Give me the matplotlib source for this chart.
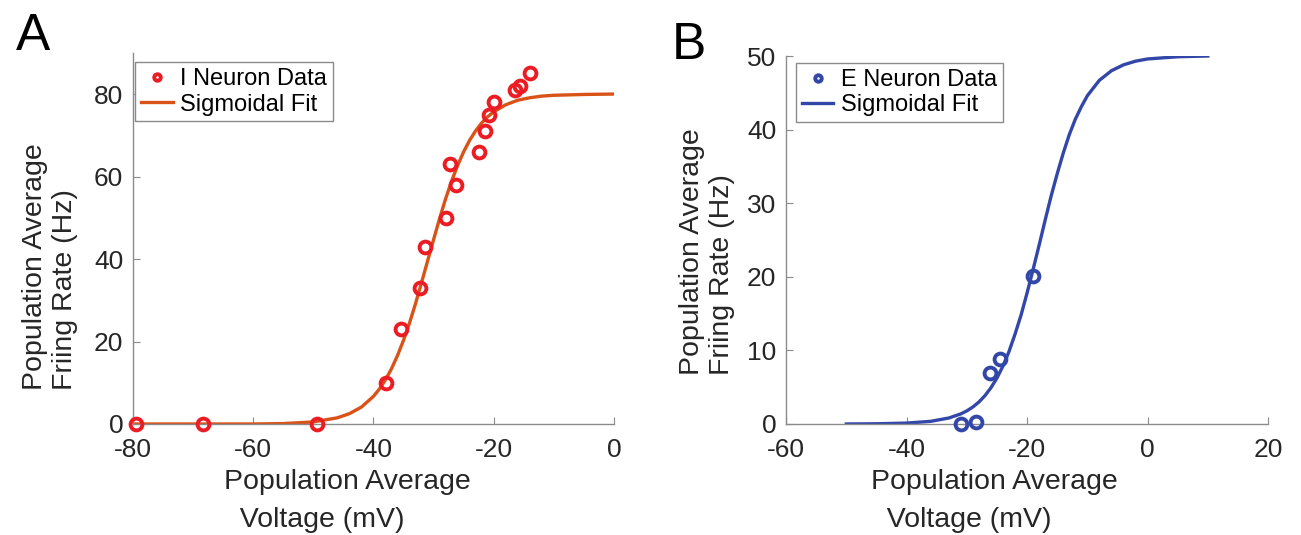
import matplotlib
matplotlib.use("Agg")
import matplotlib.pyplot as plt

plt.rcParams['font.family'] = ['Liberation Sans', 'DejaVu Sans']
plt.rcParams['axes.unicode_minus'] = False

# Panel A - I neuron data (voltage mV, rate Hz)
i_volt = [-79.5, -68.4, -49.4, -37.9, -35.4, -32.2, -31.4, -28.0, -27.2, -26.3,
          -22.4, -21.4, -20.8, -19.9, -16.5, -15.7, -14.0]
i_rate = [0.0, 0.0, 0.0, 10.0, 23.0, 33.0, 43.0, 50.0, 63.0, 58.0,
          66.0, 71.0, 75.0, 78.0, 81.0, 82.0, 85.0]

# Panel A - sigmoidal fit
i_fit_v = [-80, -70, -60, -55, -50, -46, -44, -42, -40, -39, -38, -37, -36, -35,
           -34, -33, -32, -31, -30, -29, -28, -27, -26, -25, -24, -23, -22, -21,
           -20, -18, -16, -14, -12, -10, -5, 0]
i_fit_r = [0.0, 0.0, 0.0, 0.1, 0.5, 1.5, 2.5, 4.1, 6.7, 8.5, 10.7, 13.4, 16.6, 20.3,
           24.5, 29.2, 34.3, 39.5, 44.7, 49.8, 54.6, 58.9, 62.7, 66.0, 68.8, 71.1, 73.0, 74.5,
           75.7, 77.4, 78.5, 79.1, 79.5, 79.7, 79.9, 80.0]

# Panel B - E neuron data
e_volt = [-31.0, -28.4, -26.1, -24.5, -19.0]
e_rate = [0.0, 0.3, 6.9, 8.8, 20.1]

# Panel B - sigmoidal fit
e_fit_v = [-50, -45, -40, -36, -33, -31, -30, -29, -28, -27, -26, -25, -24, -23,
           -22, -21, -20, -19, -18, -17, -16, -15, -14, -13, -12, -11, -10, -8,
           -6, -4, -2, 0, 5, 10]
e_fit_r = [0.0, 0.03, 0.12, 0.36, 0.81, 1.37, 1.78, 2.31, 2.98, 3.84, 4.92, 6.25, 7.88, 9.85,
           12.2, 14.8, 17.8, 21.0, 24.3, 27.7, 31.0, 34.0, 36.8, 39.3, 41.4, 43.1, 44.6, 46.7,
           48.0, 48.8, 49.3, 49.6, 49.9, 50.0]

fig = plt.figure(figsize=(13.01, 5.35), dpi=100)

spine_col = '#8a8a8a'
txt_col = '#262626'


def style_axes(ax):
    for s in ['top', 'right']:
        ax.spines[s].set_visible(False)
    for s in ['left', 'bottom']:
        ax.spines[s].set_color(spine_col)
        ax.spines[s].set_linewidth(1.0)
    ax.tick_params(direction='in', length=5, width=0.8, color=spine_col,
                   labelsize=19, labelcolor=txt_col, pad=7)
    ax.tick_params(axis='x', pad=10)


# ---- A ----
axA = fig.add_axes([0.1022, 0.2075, 0.3697, 0.6938])
axA.plot(i_fit_v, i_fit_r, color='#d95319', linewidth=2.4, label='Sigmoidal Fit', zorder=2)
axA.plot(i_volt, i_rate, linestyle='none', marker='o', markersize=8.5,
         markerfacecolor='none', markeredgecolor='#ec1c24', markeredgewidth=2.8,
         label='I Neuron Data', clip_on=False, zorder=3)
axA.set_xlim(-80, 0)
axA.set_ylim(0, 90)
axA.set_xticks([-80, -60, -40, -20, 0])
axA.set_yticks([0, 20, 40, 60, 80])
style_axes(axA)
axA.set_xlabel('Population Average\n  Voltage (mV)', fontsize=20.5, color=txt_col,
               multialignment='left', linespacing=1.6)
axA.xaxis.set_label_coords(0.445, -0.12)
axA.set_ylabel('Population Average\nFriing Rate (Hz)', fontsize=20.5, color=txt_col,
               multialignment='left')
axA.yaxis.set_label_coords(-0.114, 0.423)
h, l = axA.get_legend_handles_labels()
legA = axA.legend([h[1], h[0]], [l[1], l[0]], loc='upper left', bbox_to_anchor=(0.004, 0.975),
                  borderaxespad=0, fontsize=17, fancybox=False, edgecolor='#8a8a8a',
                  framealpha=1, handlelength=1.35, handletextpad=0.3, borderpad=0.25,
                  labelspacing=0.15, markerscale=0.55)
legA.get_frame().set_linewidth(1.0)

# ---- B ----
axB = fig.add_axes([0.6042, 0.2075, 0.3705, 0.6878])
axB.plot(e_fit_v, e_fit_r, color='#3347a8', linewidth=2.4, label='Sigmoidal Fit', zorder=2)
axB.plot(e_volt, e_rate, linestyle='none', marker='o', markersize=8.5,
         markerfacecolor='none', markeredgecolor='#3347a8', markeredgewidth=2.8,
         label='E Neuron Data', clip_on=False, zorder=3)
axB.set_xlim(-60, 20)
axB.set_ylim(0, 50)
axB.set_xticks([-60, -40, -20, 0, 20])
axB.set_yticks([0, 10, 20, 30, 40, 50])
style_axes(axB)
axB.set_xlabel('Population Average\n  Voltage (mV)', fontsize=20.5, color=txt_col,
               multialignment='left', linespacing=1.6)
axB.xaxis.set_label_coords(0.432, -0.121)
axB.set_ylabel('Population Average\nFriing Rate (Hz)', fontsize=20.5, color=txt_col,
               multialignment='left')
axB.yaxis.set_label_coords(-0.106, 0.469)
h, l = axB.get_legend_handles_labels()
legB = axB.legend([h[1], h[0]], [l[1], l[0]], loc='upper left', bbox_to_anchor=(0.02, 0.981),
                  borderaxespad=0, fontsize=17, fancybox=False, edgecolor='#8a8a8a',
                  framealpha=1, handlelength=1.35, handletextpad=0.3, borderpad=0.25,
                  labelspacing=0.15, markerscale=0.55)
legB.get_frame().set_linewidth(1.0)

# panel letters
fig.text(0.0123, 1 - 50 / 535, 'A', fontsize=37, va='baseline', ha='left')
fig.text(0.5165, 1 - 59 / 535, 'B', fontsize=37, va='baseline', ha='left')

fig.savefig('out.png', dpi=100)
